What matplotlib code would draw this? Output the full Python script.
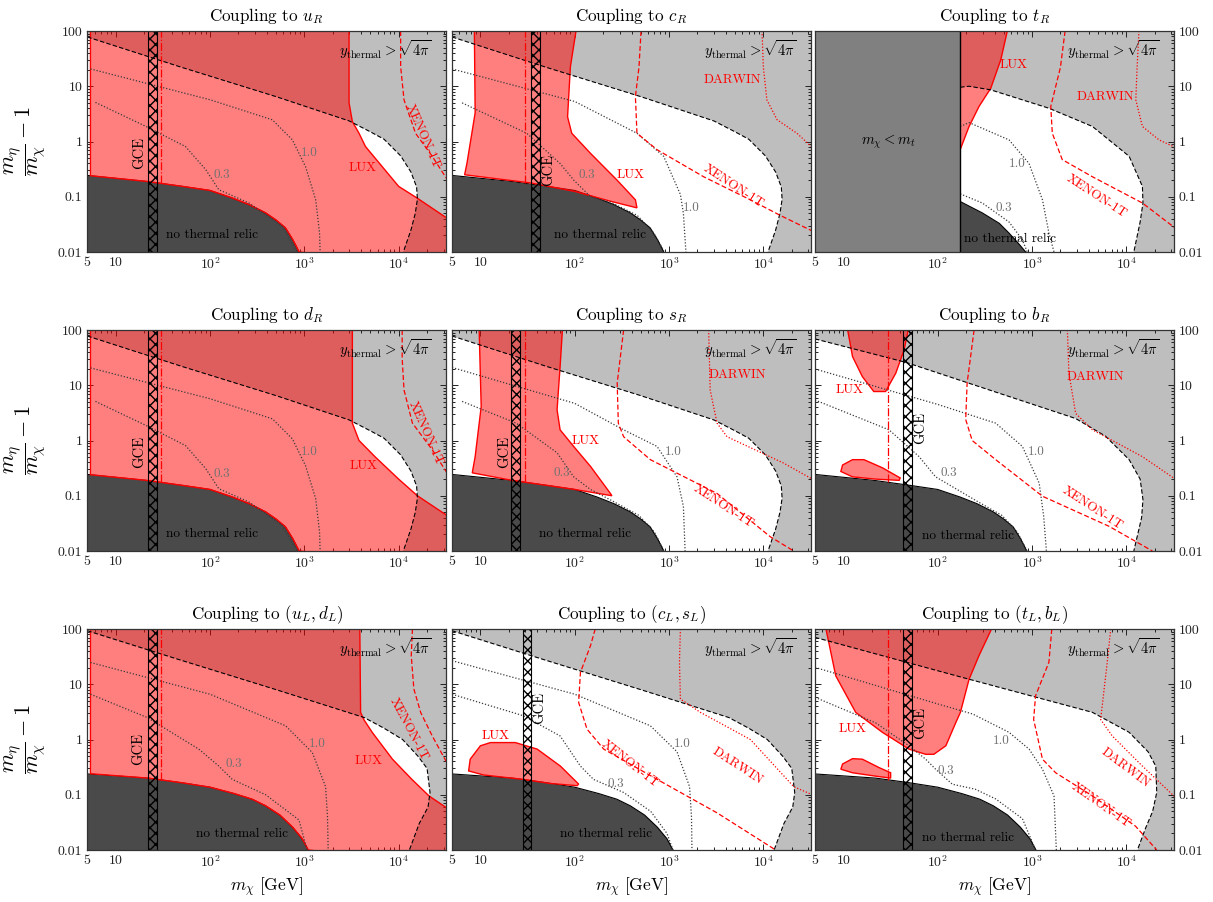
import numpy as np
import matplotlib
matplotlib.use("Agg")
import matplotlib.pyplot as plt
from matplotlib.ticker import FixedLocator, FixedFormatter, LogLocator, NullFormatter

plt.rcParams["font.family"] = ["cmr10"]
plt.rcParams["mathtext.fontset"] = "cm"
plt.rcParams["axes.unicode_minus"] = False
plt.rcParams["axes.formatter.use_mathtext"] = True
plt.rcParams["hatch.linewidth"] = 1.0

# ---- axis ranges / ticks ----
X_MIN, X_MAX = 5, 3.2e4
Y_MIN, Y_MAX = 0.01, 100
X_TICKS = [5, 10, 100, 1000, 10000]
X_TICK_LABELS = ["5", "10", "$10^2$", "$10^3$", "$10^4$"]
Y_TICKS = [0.01, 0.1, 1, 10, 100]
Y_TICK_LABELS = ["0.01", "0.1", "1", "10", "100"]
M_TOP = 173.0
DASHDOT_X = 30.0

# ---- "no thermal relic" boundaries ----
RELIC_R_X = [5, 21, 51, 100, 172, 260, 389, 500, 630, 750, 807, 880]
RELIC_R_Y = [0.243, 0.19, 0.154, 0.13, 0.095, 0.072, 0.051, 0.038, 0.0274, 0.017, 0.0134, 0.01]
RELIC_L_X = [5, 22, 50, 100, 180, 280, 389, 550, 750, 950, 1100]
RELIC_L_Y = [0.238, 0.2, 0.165, 0.137, 0.105, 0.083, 0.063, 0.043, 0.026, 0.016, 0.01]
RELIC_T_X = [173, 297, 450, 570, 700, 857]
RELIC_T_Y = [0.082, 0.051, 0.033, 0.022, 0.015, 0.01]

# ---- y_thermal = sqrt(4 pi) boundaries ----
THERM_R_X = [5, 50, 500, 3000, 5000, 7000, 1.05e4, 1.35e4, 1.55e4, 1.58e4, 1.5e4, 1.35e4, 1.12e4]
THERM_R_Y = [78, 22, 6.5, 2.35, 1.5, 1.1, 0.55, 0.28, 0.15, 0.09, 0.05, 0.025, 0.01]
THERM_B_X = [5, 45.8, 2900, 6000, 1.07e4, 1.4e4, 1.5e4, 1.45e4, 1.2e4]
THERM_B_Y = [69, 26, 2.5, 1.2, 0.45, 0.2, 0.085, 0.04, 0.01]
THERM_T_X = [173, 215, 365, 1510, 4370, 1.07e4, 1.48e4, 1.5e4, 1.4e4, 1.2e4]
THERM_T_Y = [9.6, 10, 8.6, 4, 1.87, 0.54, 0.154, 0.077, 0.035, 0.01]
THERM_L_X = [5, 50, 500, 4300, 7000, 1.1e4, 1.6e4, 2.0e4, 2.15e4, 2.05e4, 1.65e4, 1.3e4]
THERM_L_Y = [93, 27, 8, 2.5, 1.6, 1.0, 0.5, 0.3, 0.11, 0.06, 0.03, 0.01]
THERM_TL_X = [5, 182, 4370, 1.07e4, 1.7e4, 2.05e4, 2.1e4, 1.9e4, 1.6e4, 1.31e4]
THERM_TL_Y = [70.6, 13.3, 3.1, 1.35, 0.6, 0.33, 0.11, 0.05, 0.025, 0.01]

# ---- LUX excluded regions ----
LUX_UR_X = [5.4, 5.4, 2980, 2980, 3230, 3800, 4450, 6700, 1.0e4, 1.58e4, 5e4, 5e4,
            880, 807, 750, 630, 500, 389, 260, 172, 100, 51, 21]
LUX_UR_Y = [0.24, 200, 200, 5, 2.3, 1.41, 0.81, 0.35, 0.154, 0.094, 0.025, 0.005,
            0.01, 0.0134, 0.017, 0.0274, 0.038, 0.051, 0.072, 0.095, 0.13, 0.154, 0.19]
LUX_DR_X = [5.4, 5.4, 3230, 3230, 3800, 5670, 1.0e4, 1.58e4, 5e4, 5e4,
            880, 807, 750, 630, 500, 389, 260, 172, 100, 51, 21]
LUX_DR_Y = [0.24, 200, 200, 2.06, 1.0, 0.5, 0.2, 0.1, 0.027, 0.005,
            0.01, 0.0134, 0.017, 0.0274, 0.038, 0.051, 0.072, 0.095, 0.13, 0.154, 0.19]
LUX_CR_X = [6.8, 7.2, 8.8, 8.6, 110, 90, 84, 93, 147, 281, 440, 457, 239, 100, 34.7]
LUX_CR_Y = [0.25, 0.4, 3.3, 200, 200, 22.6, 2.8, 1.41, 0.61, 0.2, 0.088, 0.063, 0.083, 0.125, 0.177]
LUX_TR_X = [173, 215, 274, 365, 466, 600, 173]
LUX_TR_Y = [0.71, 1.87, 4.3, 9.2, 30, 200, 200]
LUX_SR_X = [8.2, 8.8, 10.2, 9.6, 76, 70, 65, 70, 97.5, 147, 239, 248, 100, 21.6]
LUX_SR_Y = [0.26, 0.51, 4.1, 200, 200, 21.8, 3.6, 1.56, 0.78, 0.34, 0.11, 0.1, 0.13, 0.19]
LUX_BR_TOP_X = [10.3, 12.5, 15.9, 21, 28, 35.9, 44, 53]
LUX_BR_TOP_Y = [200, 33, 14.3, 7.7, 7.7, 16.5, 43.5, 200]
LUX_BR_ISL_X = [9.4, 9.8, 12.5, 16.5, 26, 40, 39, 22, 12.5]
LUX_BR_ISL_Y = [0.275, 0.36, 0.45, 0.45, 0.32, 0.21, 0.19, 0.2, 0.22]
LUX_UL_X = [5.4, 5.4, 3860, 3950, 4270, 5240, 8600, 1.38e4, 2.1e4, 5e4, 5e4,
            1100, 950, 750, 550, 389, 280, 180, 100, 50, 22]
LUX_UL_Y = [0.24, 200, 200, 3.1, 2.3, 1.35, 0.44, 0.19, 0.095, 0.035, 0.005,
            0.01, 0.016, 0.026, 0.043, 0.063, 0.083, 0.105, 0.137, 0.165, 0.2]
LUX_CL_X = [7.5, 7.8, 10, 12.8, 23.5, 40, 70.5, 110, 106, 55, 28, 10.8]
LUX_CL_Y = [0.27, 0.44, 0.77, 0.88, 0.88, 0.67, 0.33, 0.156, 0.146, 0.16, 0.19, 0.228]
LUX_TL_TOP_X = [6.0, 8.3, 13.5, 25.9, 49.6, 74.5, 91, 122, 155, 174, 215, 274, 450]
LUX_TL_TOP_Y = [200, 14.2, 3.1, 1.35, 0.67, 0.54, 0.54, 0.77, 2.0, 3.1, 12.3, 33, 200]
LUX_TL_ISL_X = [9.4, 9.8, 12.5, 15.9, 23.9, 31.7, 31.7, 22, 12.5]
LUX_TL_ISL_Y = [0.29, 0.36, 0.45, 0.44, 0.31, 0.25, 0.2, 0.217, 0.25]

# ---- coupling contours (1.0 and 0.3) ----
C10_UR_X = [5.4, 100, 458, 747, 1030, 1320, 1450, 1470]
C10_UR_Y = [20.6, 5.7, 2.47, 1.07, 0.35, 0.088, 0.022, 0.01]
C03_UR_X = [6.1, 21, 55, 90, 124, 259, 585, 840]
C03_UR_Y = [5.1, 1.87, 0.81, 0.31, 0.134, 0.077, 0.029, 0.01]
C10_CR_X = [5, 100, 457, 877, 1320, 1420, 1510]
C10_CR_Y = [20.6, 5.3, 1.41, 0.54, 0.11, 0.05, 0.01]
C03_CR_X = [6.4, 31, 70, 97.7, 147, 240, 460, 690, 880]
C03_CR_Y = [5, 1.41, 0.4, 0.2, 0.1, 0.08, 0.046, 0.022, 0.0105]
C10_TR_X = [173, 215, 570, 929, 1290, 1510, 1710]
C10_TR_Y = [1.87, 2.2, 1.07, 0.4, 0.088, 0.022, 0.01]
C03_TR_X = [173, 297, 570, 789, 890]
C03_TR_Y = [0.113, 0.077, 0.035, 0.0167, 0.01]
C10_SR_X = [5, 100, 330, 747, 1215, 1420, 1480]
C10_SR_Y = [21, 4.7, 1.56, 0.78, 0.22, 0.064, 0.01]
C03_SR_X = [6.4, 24, 65, 97.5, 147, 260, 480, 700, 885]
C03_SR_Y = [5.1, 2.06, 0.6, 0.22, 0.13, 0.078, 0.044, 0.022, 0.01]
C10_BR_X = [5, 100, 412, 790, 1190, 1330, 1420]
C10_BR_Y = [19.7, 4.5, 2.06, 0.78, 0.17, 0.042, 0.01]
C03_BR_X = [5, 30.5, 63.5, 95, 143, 260, 480, 700, 885]
C03_BR_Y = [5.4, 1.56, 0.51, 0.22, 0.146, 0.08, 0.044, 0.022, 0.01]
C10_UL_X = [5.4, 100, 634, 1215, 1680, 1760, 1790]
C10_UL_Y = [24.8, 6.6, 1.77, 0.58, 0.14, 0.04, 0.01]
C03_UL_X = [5.4, 21.6, 76, 124, 172, 389, 877, 1070]
C03_UL_Y = [6.6, 2.5, 0.67, 0.33, 0.19, 0.1, 0.035, 0.01]
C10_CL_X = [5, 100, 634, 1215, 1650, 1730, 1750]
C10_CL_Y = [26.7, 6.6, 1.77, 0.6, 0.14, 0.04, 0.01]
C03_CL_X = [5, 28.4, 70, 115, 158, 330, 640, 950, 1100]
C03_CL_Y = [6.6, 2.7, 1.16, 0.33, 0.19, 0.11, 0.05, 0.02, 0.01]
C10_TL_X = [5, 100, 234, 570, 930, 1290, 1710, 1810]
C10_TL_Y = [20.2, 4.4, 2.9, 1.35, 0.67, 0.29, 0.095, 0.01]
C03_TL_X = [5, 22, 49.6, 74.5, 95, 143, 250, 412, 790, 1090]
C03_TL_Y = [5.8, 2.0, 0.77, 0.44, 0.29, 0.155, 0.126, 0.084, 0.037, 0.01]

# ---- XENON-1T / DARWIN projections ----
XE_UR_X = [1.05e4, 1.05e4, 1.14e4, 1.51e4, 2.27e4, 3.3e4]
XE_UR_Y = [100, 22.6, 5.66, 1.41, 0.54, 0.2]
XE_DR_X = [1.09e4, 1.09e4, 1.14e4, 1.4e4, 2.27e4, 3.3e4]
XE_DR_Y = [100, 30, 8.2, 2.06, 0.68, 0.25]
XE_CR_X = [505, 480, 440, 457, 747, 2330, 7280, 1.51e4, 3.3e4]
XE_CR_Y = [100, 22, 6.5, 1.41, 0.71, 0.23, 0.088, 0.046, 0.024]
XE_TR_X = [2240, 2000, 1580, 1640, 2090, 4370, 1.48e4, 3.3e4]
XE_TR_Y = [100, 22, 4.3, 1.41, 0.47, 0.23, 0.077, 0.027]
XE_SR_X = [330, 305, 282, 290, 330, 634, 3230, 1.19e4, 2.1e4]
XE_SR_Y = [100, 33, 10.9, 2.06, 1.17, 0.45, 0.11, 0.018, 0.01]
XE_BR_X = [243, 205, 198, 232, 412, 1290, 6550, 1.89e4]
XE_BR_Y = [100, 10.9, 2.4, 1.0, 0.45, 0.098, 0.028, 0.01]
XE_UL_X = [1.4e4, 1.36e4, 1.45e4, 1.71e4, 2.27e4, 3.3e4]
XE_UL_Y = [100, 33, 8.2, 3.1, 1.16, 0.36]
XE_CL_X = [165, 147, 115, 110, 135, 203, 747, 3230, 1.35e4]
XE_CL_Y = [100, 50, 16.4, 4.7, 1.54, 0.67, 0.19, 0.047, 0.01]
XE_TL_X = [1620, 1510, 1090, 1040, 1290, 1780, 4370, 1.25e4, 2.1e4]
XE_TL_Y = [100, 25, 6.2, 2.3, 0.44, 0.25, 0.095, 0.027, 0.01]

DW_CR_X = [9680, 1e4, 1.09e4, 1.4e4, 2.27e4, 3.3e4]
DW_CR_Y = [100, 22, 5.66, 2.47, 1.41, 0.78]
DW_TR_X = [1.36e4, 1.3e4, 1.26e4, 1.48e4, 2.22e4, 3.3e4]
DW_TR_Y = [100, 22, 5.66, 1.87, 1.07, 0.78]
DW_SR_X = [2630, 2730, 3230, 4120, 1.64e4, 3.3e4]
DW_SR_Y = [100, 8.2, 2.06, 1.17, 0.39, 0.2]
DW_BR_X = [2370, 2460, 2900, 4370, 1.48e4, 3.3e4]
DW_BR_Y = [100, 16.5, 3.1, 1.56, 0.51, 0.2]
DW_CL_X = [1320, 1290, 1320, 2150, 7280, 2.1e4, 3.3e4]
DW_CL_Y = [100, 25, 5.4, 3.1, 1.0, 0.14, 0.1]
DW_TL_X = [6830, 6270, 5340, 7080, 1.48e4, 3.3e4]
DW_TL_Y = [100, 25, 2.3, 1.16, 0.33, 0.09]

# ---- GCE mass windows ----
GCE_UD = (22, 27.5)
GCE_C = (34.5, 43)
GCE_S = (21.3, 26.5)
GCE_B = (43, 54)
GCE_CL = (28.4, 34.7)

TITLES = [r"Coupling to $u_R$", r"Coupling to $c_R$", r"Coupling to $t_R$",
          r"Coupling to $d_R$", r"Coupling to $s_R$", r"Coupling to $b_R$",
          r"Coupling to $(u_L, d_L)$", r"Coupling to $(c_L, s_L)$", r"Coupling to $(t_L, b_L)$"]

LIGHT = "#bebebe"
DARK = "#4a4a4a"
MT_GRAY = "#808080"
LUX_FACE = (1.0, 0.0, 0.0, 0.5)

PANELS = [
    dict(therm=(THERM_R_X, THERM_R_Y), relic=(RELIC_R_X, RELIC_R_Y),
         lux=[(LUX_UR_X, LUX_UR_Y)], c10=(C10_UR_X, C10_UR_Y), c03=(C03_UR_X, C03_UR_Y),
         xe=(XE_UR_X, XE_UR_Y), dw=None, gce=GCE_UD, dashdot=True,
         gce_lbl=(17.7, 0.63), lux_lbl=[(4120, 0.33)], c10_lbl=(1120, 0.61), c03_lbl=(135, 0.25),
         xe_lbl=(1.78e4, 1.23, -66), dw_lbl=None, relic_lbl=(34, 0.0206)),
    dict(therm=(THERM_R_X, THERM_R_Y), relic=(RELIC_R_X, RELIC_R_Y),
         lux=[(LUX_CR_X, LUX_CR_Y)], c10=(C10_CR_X, C10_CR_Y), c03=(C03_CR_X, C03_CR_Y),
         xe=(XE_CR_X, XE_CR_Y), dw=(DW_CR_X, DW_CR_Y), gce=GCE_C, dashdot=True,
         gce_lbl=(53, 0.31), lux_lbl=[(389, 0.25)], c10_lbl=(1710, 0.063), c03_lbl=(135, 0.25),
         xe_lbl=(4850, 0.154, -33), dw_lbl=(4660, 12.9, 0), relic_lbl=(60, 0.0206)),
    dict(therm=(THERM_T_X, THERM_T_Y), relic=(RELIC_T_X, RELIC_T_Y),
         lux=[(LUX_TR_X, LUX_TR_Y)], c10=(C10_TR_X, C10_TR_Y), c03=(C03_TR_X, C03_TR_Y),
         xe=(XE_TR_X, XE_TR_Y), dw=(DW_TR_X, DW_TR_Y), gce=None, dashdot=False,
         gce_lbl=None, lux_lbl=[(645, 24)], c10_lbl=(700, 0.4), c03_lbl=(504, 0.063),
         xe_lbl=(4800, 0.1, -33), dw_lbl=(6000, 6.3, 0), relic_lbl=(190, 0.0173), top=True),
    dict(therm=(THERM_R_X, THERM_R_Y), relic=(RELIC_R_X, RELIC_R_Y),
         lux=[(LUX_DR_X, LUX_DR_Y)], c10=(C10_UR_X, C10_UR_Y), c03=(C03_UR_X, C03_UR_Y),
         xe=(XE_DR_X, XE_DR_Y), dw=None, gce=GCE_UD, dashdot=True,
         gce_lbl=(17.7, 0.63), lux_lbl=[(4260, 0.34)], c10_lbl=(1120, 0.61), c03_lbl=(135, 0.25),
         xe_lbl=(1.93e4, 1.35, -66), dw_lbl=None, relic_lbl=(34, 0.0203)),
    dict(therm=(THERM_R_X, THERM_R_Y), relic=(RELIC_R_X, RELIC_R_Y),
         lux=[(LUX_SR_X, LUX_SR_Y)], c10=(C10_SR_X, C10_SR_Y), c03=(C03_SR_X, C03_SR_Y),
         xe=(XE_SR_X, XE_SR_Y), dw=(DW_SR_X, DW_SR_Y), gce=GCE_S, dashdot=True,
         gce_lbl=(17.7, 0.63), lux_lbl=[(129, 0.97)], c10_lbl=(1120, 0.63), c03_lbl=(73, 0.26),
         xe_lbl=(3800, 0.064, -33), dw_lbl=(5260, 15.4, 0), relic_lbl=(41.5, 0.0203)),
    dict(therm=(THERM_B_X, THERM_B_Y), relic=(RELIC_R_X, RELIC_R_Y),
         lux=[(LUX_BR_TOP_X, LUX_BR_TOP_Y), (LUX_BR_ISL_X, LUX_BR_ISL_Y)],
         c10=(C10_BR_X, C10_BR_Y), c03=(C03_BR_X, C03_BR_Y),
         xe=(XE_BR_X, XE_BR_Y), dw=(DW_BR_X, DW_BR_Y), gce=GCE_B, dashdot=True,
         gce_lbl=(66, 1.66), lux_lbl=[(11.5, 8.2)], c10_lbl=(1110, 0.63), c03_lbl=(131, 0.26),
         xe_lbl=(4370, 0.059, -33), dw_lbl=(4650, 14, 0), relic_lbl=(68.7, 0.0185)),
    dict(therm=(THERM_L_X, THERM_L_Y), relic=(RELIC_L_X, RELIC_L_Y),
         lux=[(LUX_UL_X, LUX_UL_Y)], c10=(C10_UL_X, C10_UL_Y), c03=(C03_UL_X, C03_UL_Y),
         xe=(XE_UL_X, XE_UL_Y), dw=None, gce=GCE_UD, dashdot=True,
         gce_lbl=(17.4, 0.67), lux_lbl=[(4850, 0.41)], c10_lbl=(1370, 0.83), c03_lbl=(180, 0.36),
         xe_lbl=(1.29e4, 1.54, -62), dw_lbl=None, relic_lbl=(70.5, 0.0192)),
    dict(therm=(THERM_L_X, THERM_L_Y), relic=(RELIC_L_X, RELIC_L_Y),
         lux=[(LUX_CL_X, LUX_CL_Y)], c10=(C10_CL_X, C10_CL_Y), c03=(C03_CL_X, C03_CL_Y),
         xe=(XE_CL_X, XE_CL_Y), dw=(DW_CL_X, DW_CL_Y), gce=GCE_CL, dashdot=False,
         gce_lbl=(42.5, 3.8), lux_lbl=[(14.4, 1.16)], c10_lbl=(1390, 0.83), c03_lbl=(270, 0.156),
         xe_lbl=(389, 0.36, -38), dw_lbl=(5260, 0.33, -33), relic_lbl=(70.5, 0.0192)),
    dict(therm=(THERM_TL_X, THERM_TL_Y), relic=(RELIC_L_X, RELIC_L_Y),
         lux=[(LUX_TL_TOP_X, LUX_TL_TOP_Y), (LUX_TL_ISL_X, LUX_TL_ISL_Y)],
         c10=(C10_TL_X, C10_TL_Y), c03=(C03_TL_X, C03_TL_Y),
         xe=(XE_TL_X, XE_TL_Y), dw=(DW_TL_X, DW_TL_Y), gce=GCE_B, dashdot=True,
         gce_lbl=(66, 2.0), lux_lbl=[(12.6, 1.54)], c10_lbl=(466, 0.94), c03_lbl=(122, 0.27),
         xe_lbl=(5340, 0.063, -35), dw_lbl=(9800, 0.31, -37), relic_lbl=(68.7, 0.0167)),
]


def log_interp(x, xs, ys):
    return 10 ** np.interp(np.log10(x), np.log10(xs), np.log10(ys))


def draw_panel(ax, p):
    tx, ty = p["therm"]
    ax.fill(list(tx) + [1e5, 1e5, tx[0]], list(ty) + [Y_MIN, 1e3, 1e3],
            color=LIGHT, lw=0, zorder=1)

    rx, ry = p["relic"]
    ax.fill_between(rx, ry, 1e-3, color=DARK, lw=0, zorder=2)
    ax.plot(rx, ry, color="k", lw=0.8, zorder=2.1)

    for lx, ly in p["lux"]:
        ax.fill(lx, ly, facecolor=LUX_FACE, edgecolor="red", lw=1.0, zorder=3)

    ax.plot(tx, ty, color="k", ls=(0, (4, 2)), lw=0.8, zorder=4)

    for key in ("c10", "c03"):
        cx, cy = p[key]
        ax.plot(cx, cy, color="#3a3a3a", ls=(0, (1, 1.5)), lw=0.9, zorder=4)

    ax.plot(*p["xe"], color="red", ls=(0, (4, 2)), lw=0.9, zorder=4)
    if p["dw"] is not None:
        ax.plot(*p["dw"], color="red", ls=(0, (1, 1.5)), lw=0.9, zorder=4)

    if p["dashdot"]:
        ybot = log_interp(DASHDOT_X, rx, ry)
        ax.plot([DASHDOT_X, DASHDOT_X], [ybot, Y_MAX], color="red", ls="-.", lw=0.9, zorder=4)

    if p["gce"] is not None:
        ax.axvspan(p["gce"][0], p["gce"][1], facecolor="none", edgecolor="k",
                   hatch="xxx", lw=0.8, zorder=5)
        gx, gy = p["gce_lbl"]
        ax.text(gx, gy, "GCE", rotation=90, ha="center", va="center", fontsize=10.5, zorder=7)

    if p.get("top"):
        ax.axvspan(X_MIN, M_TOP, color=MT_GRAY, lw=0, zorder=5.5)
        ax.axvline(M_TOP, color="k", lw=1.0, zorder=5.6)
        ax.text(30, 1.0, r"$m_\chi < m_t$", ha="center", va="center", fontsize=10.5, zorder=7)

    for lxx, lyy in p["lux_lbl"]:
        ax.text(lxx, lyy, "LUX", color="red", ha="center", va="center", fontsize=9.5, zorder=7)
    ax.text(*p["c10_lbl"], "1.0", color="#707070", ha="center", va="center", fontsize=9.5, zorder=7)
    ax.text(*p["c03_lbl"], "0.3", color="#707070", ha="center", va="center", fontsize=9.5, zorder=7)
    xx, xy, xr = p["xe_lbl"]
    ax.text(xx, xy, "XENON-1T", color="red", rotation=xr, ha="center", va="center",
            fontsize=9.5, zorder=7, rotation_mode="anchor")
    if p["dw_lbl"] is not None:
        dx, dy, dr = p["dw_lbl"]
        ax.text(dx, dy, "DARWIN", color="red", rotation=dr, ha="center", va="center",
                fontsize=9.5, zorder=7, rotation_mode="anchor")
    ax.text(*p["relic_lbl"], "no thermal relic", ha="left", va="center", fontsize=9.6, zorder=7)
    ax.text(0.96, 0.915, r"$y_{\rm thermal} > \sqrt{4\pi}$", transform=ax.transAxes,
            ha="right", va="center", fontsize=10.5, zorder=7)


fig = plt.figure(figsize=(12.13, 9.02), dpi=100)
lefts = [87.3 / 1213, 452 / 1213, 815 / 1213]
bottoms = [650 / 902, 351 / 902, 52 / 902]
w, h = 359 / 1213, 221 / 902

for i, p in enumerate(PANELS):
    r, c = divmod(i, 3)
    ax = fig.add_axes([lefts[c], bottoms[r], w, h])
    ax.set_xscale("log")
    ax.set_yscale("log")
    draw_panel(ax, p)
    ax.set_xlim(X_MIN, X_MAX)
    ax.set_ylim(Y_MIN, Y_MAX)

    ax.xaxis.set_major_locator(FixedLocator(X_TICKS))
    ax.xaxis.set_major_formatter(FixedFormatter(X_TICK_LABELS))
    ax.yaxis.set_major_locator(FixedLocator(Y_TICKS))
    ax.yaxis.set_major_formatter(FixedFormatter(Y_TICK_LABELS))
    ax.xaxis.set_minor_locator(LogLocator(base=10, subs=np.arange(2, 10)))
    ax.yaxis.set_minor_locator(LogLocator(base=10, subs=np.arange(2, 10)))
    ax.xaxis.set_minor_formatter(NullFormatter())
    ax.yaxis.set_minor_formatter(NullFormatter())
    ax.tick_params(which="both", direction="in", top=True, right=True, labelsize=10,
                   width=0.7, colors="#222222")
    ax.tick_params(which="major", length=4.5)
    ax.tick_params(which="minor", length=2.5)
    ax.tick_params(labelleft=(c == 0), labelright=(c == 2))
    for s in ax.spines.values():
        s.set_linewidth(0.9)
        s.set_color("#333333")
        s.set_zorder(8)

    ax.set_title(TITLES[i], fontsize=12.3, pad=7)
    if c == 0:
        ax.set_ylabel(r"$\dfrac{m_\eta}{m_\chi} - 1$", fontsize=16)
        ax.yaxis.set_label_coords(-0.11, 0.5)
    if r == 2:
        ax.set_xlabel(r"$m_\chi\ [\mathrm{GeV}]$", fontsize=12.5, labelpad=4)

fig.savefig("out.png", dpi=100)
